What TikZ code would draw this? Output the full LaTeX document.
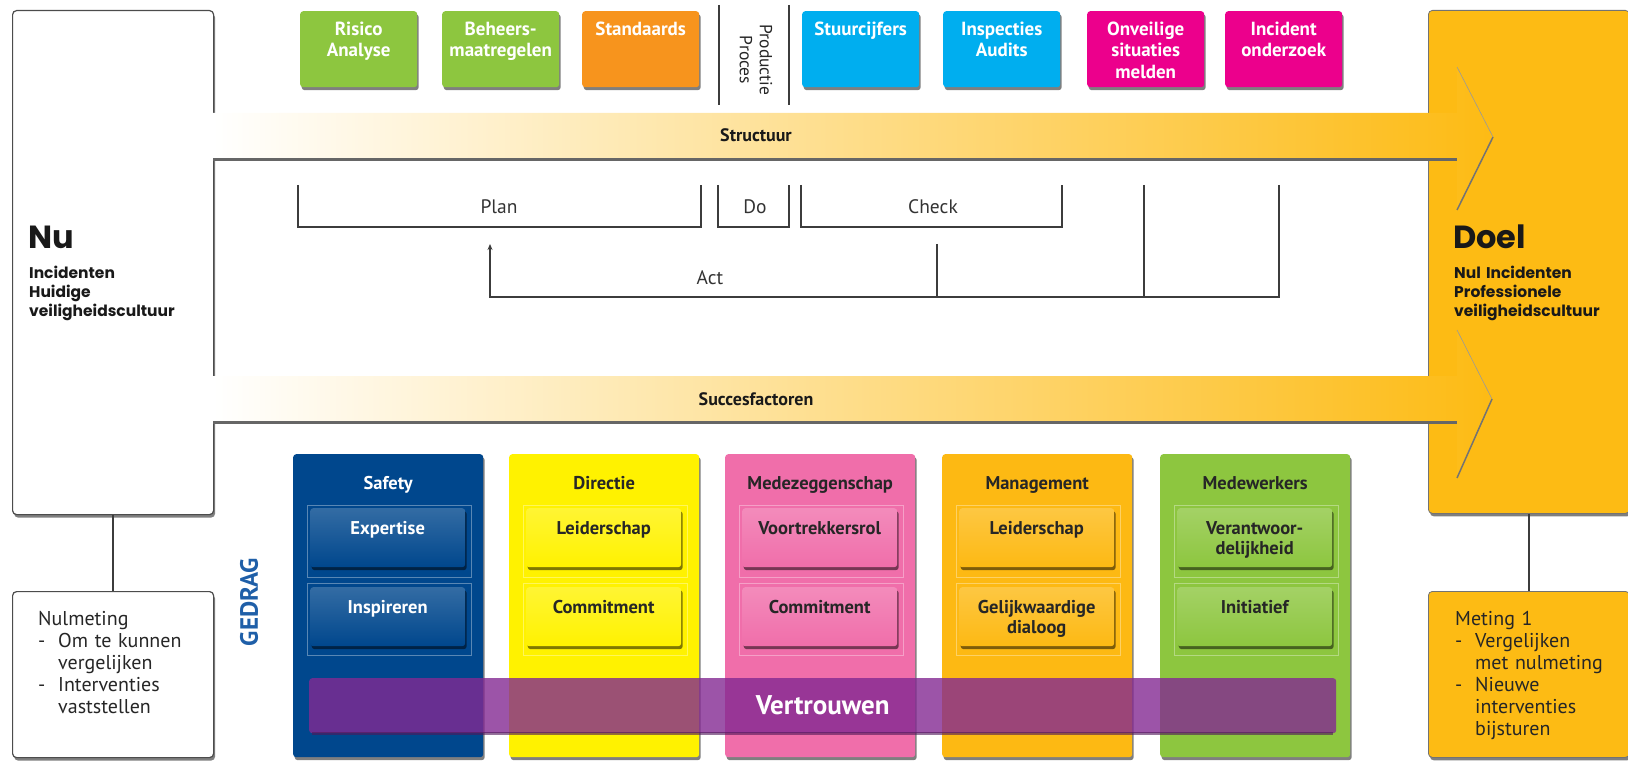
\documentclass[tikz,border=0pt]{standalone}
\usepackage{fontspec}
\setmainfont{PT Sans}
\newfontfamily\geofont{Poppins}
\usetikzlibrary{arrows.meta,shadows}

\definecolor{lichtgroen}{HTML}{8DC63F}
\definecolor{oranje}{HTML}{F7941D}
\definecolor{cyaan}{HTML}{00AEEF}
\definecolor{fuchsia}{HTML}{EC008C}
\definecolor{goud}{HTML}{FDBB14}
\definecolor{donkerblauw}{HTML}{00478D}
\definecolor{geel}{HTML}{FFF200}
\definecolor{roze}{HTML}{F06EAA}
\definecolor{oranjegeel}{HTML}{FDB913}
\definecolor{paars}{HTML}{832992}
\definecolor{lijnkleur}{HTML}{3C3C3C}
\definecolor{gedragblauw}{HTML}{1F5FA8}

\tikzset{
  schaduw/.style={drop shadow={shadow xshift=1.5pt, shadow yshift=-3pt, opacity=.5, fill=black}},
  topvak/.style={fill=#1, rounded corners=3pt, anchor=north west, text width=117pt, align=center,
    inner sep=0pt, text height=24pt, text depth=52pt, text=white,
    font=\bfseries\fontsize{19}{21.5}\selectfont, schaduw},
  grootvak/.style={draw=black!70, line width=1.2pt, rounded corners=4pt, anchor=north west,
    minimum width=201pt, minimum height=#1, inner sep=0pt, schaduw},
  kolom/.style={fill=#1, rounded corners=3pt, anchor=north west, text width=190pt, align=center,
    inner sep=0pt, text height=35pt, text depth=268pt, text=black!85,
    font=\bfseries\fontsize{18.5}{20}\selectfont, schaduw},
  blok/.style={top color=#1!80!white, bottom color=#1, rounded corners=3pt, anchor=north west,
    text width=155pt, align=center, inner sep=0pt, text height=26pt, text depth=33pt, text=black!85,
    font=\bfseries\fontsize{18.5}{20.5}\selectfont, schaduw},
  kader/.style={draw=white, opacity=.35, line width=.6pt},
  lijn/.style={draw=lijnkleur, line width=1.4pt},
  pdca/.style={font=\fontsize{19.5}{19.5}\selectfont, text=black!80},
  pijltekst/.style={font=\bfseries\fontsize{18}{18}\selectfont, text=black!90},
  kop/.style={anchor=base west, inner sep=0pt, font=\geofont\bfseries\fontsize{32}{32}\selectfont, text=black!90},
  subkop/.style={anchor=base west, inner sep=0pt, text width=190pt, align=left,
    font=\geofont\bfseries\fontsize{15.5}{19}\selectfont, text=black!90},
  meting/.style={anchor=base west, inner sep=0pt, text width=175pt, align=left,
    font=\fontsize{20}{22}\selectfont, text=black!85}
}

\begin{document}
\begin{tikzpicture}[x=1pt,y=-1pt]
  \useasboundingbox (0,0) rectangle (1628,762);

  % Nu en Doel
  \node (nu) [grootvak=504pt, fill=white] at (12,10) {};
  \node (doel) [grootvak=503pt, fill=goud, draw=black!55, line width=.8pt] at (1428,10) {};
  \node (nutitel) [kop] at (28,248) {Nu};
  \node (nutekst) [subkop] at (29,279) {Incidenten\\Huidige\\veiligheidscultuur};
  \node (doeltitel) [kop] at (1453,248) {Doel};
  \node (doeltekst) [subkop] at (1454,279) {Nul Incidenten\\Professionele\\veiligheidscultuur};

  % Metingen
  \node (nulmeting) [grootvak=166pt, fill=white] at (12,591) {};
  \node (meting) [grootvak=166pt, fill=goud, draw=black!55, line width=.8pt] at (1428,591) {};
  \draw[lijn] (nu.south) -- (nulmeting.north);
  \draw[lijn] (doel.south) -- (meting.north);
  \node (nultekst) [meting] at (38,625) {Nulmeting\\
    \makebox[20pt][l]{-}Om te kunnen\\ \hspace*{20pt}vergelijken\\
    \makebox[20pt][l]{-}Interventies\\ \hspace*{20pt}vaststellen};
  \node (metingtekst) [meting] at (1455,625) {Meting 1\\
    \makebox[20pt][l]{-}Vergelijken\\ \hspace*{20pt}met nulmeting\\
    \makebox[20pt][l]{-}Nieuwe\\ \hspace*{20pt}interventies\\ \hspace*{20pt}bijsturen};

  % Structuur
  \node (risico) [topvak=lichtgroen] at (300,11) {Risico\\Analyse};
  \node (beheers) [topvak=lichtgroen] at (442,11) {Beheers-\\maatregelen};
  \node (standaards) [topvak=oranje] at (582,11) {Standaards};
  \node (stuurcijfers) [topvak=cyaan] at (802,11) {Stuurcijfers};
  \node (inspecties) [topvak=cyaan] at (943,11) {Inspecties\\Audits};
  \node (onveilig) [topvak=fuchsia] at (1087,11) {Onveilige\\situaties\\melden};
  \node (incident) [topvak=fuchsia] at (1225,11) {Incident\\onderzoek};
  \draw[lijn] (719,5) -- (719,105);
  \draw[lijn] (789,5) -- (789,105);
  \node (productie) [rotate=-90, align=center, font=\fontsize{17.5}{20}\selectfont, text=black!85] at (756,60) {Productie\\Proces};

  % Pijlen
  \shade[left color=white, right color=goud] (213,113) -- (1457,113) -- (1457,67) -- (1493,137)
    -- (1457,210) -- (1457,160) -- (213,160) -- cycle;
  \draw[line width=3pt, black!60] (213,160) -- (1457,160);
  \draw[line width=1.5pt, black!55] (1457,210) -- (1493,137);
  \draw[line width=.6pt, black!40] (1457,67) -- (1493,137);
  \node (structuur) [pijltekst] at (756,135) {Structuur};

  \shade[left color=white, right color=goud] (213,376) -- (1457,376) -- (1457,330) -- (1492,399)
    -- (1457,478) -- (1457,422) -- (213,422) -- cycle;
  \draw[line width=3pt, black!60] (213,422) -- (1457,422);
  \draw[line width=1.5pt, black!55] (1457,478) -- (1492,399);
  \draw[line width=.6pt, black!40] (1457,330) -- (1492,399);
  \node (succes) [pijltekst] at (756,399) {Succesfactoren};

  % Plan Do Check Act
  \draw[lijn] (298,185) -- (298,227) -- (701,227) -- (701,185);
  \draw[lijn] (718,185) -- (718,227) -- (789,227) -- (789,185);
  \draw[lijn] (801,185) -- (801,227) -- (1062,227) -- (1062,185);
  \draw[lijn, -{Stealth[length=6pt,width=5pt]}] (1279,185) -- (1279,297) -- (490,297) -- (490,244);
  \draw[lijn] (1144,185) -- (1144,297);
  \draw[lijn] (937,244) -- (937,297);
  \node (plan) [pdca] at (499,207) {Plan};
  \node (do) [pdca] at (755,207) {Do};
  \node (check) [pdca] at (933,207) {Check};
  \node (act) [pdca] at (710,278) {Act};

  % Gedrag
  \node (gedrag) [rotate=90, font=\bfseries\fontsize{25}{25}\selectfont, text=gedragblauw] at (249,602) {GEDRAG};

  \node (safety) [kolom=donkerblauw, text=white] at (293,454) {Safety};
  \node (directie) [kolom=geel] at (509,454) {Directie};
  \node (mz) [kolom=roze] at (725,454) {Medezeggenschap};
  \node (management) [kolom=oranjegeel] at (942,454) {Management};
  \node (medewerkers) [kolom=lichtgroen] at (1160,454) {Medewerkers};

  \draw[kader] (307,505) rectangle (471,577) (307,583) rectangle (471,655);
  \draw[kader] (523,505) rectangle (687,577) (523,583) rectangle (687,655);
  \draw[kader] (739,505) rectangle (903,577) (739,583) rectangle (903,655);
  \draw[kader] (956,505) rectangle (1120,577) (956,583) rectangle (1120,655);
  \draw[kader] (1174,505) rectangle (1338,577) (1174,583) rectangle (1338,655);

  \node (expertise) [blok=donkerblauw, text=white] at (310,508) {Expertise};
  \node (inspireren) [blok=donkerblauw, text=white] at (310,587) {Inspireren};
  \node (leiderschap1) [blok=geel] at (526,508) {Leiderschap};
  \node (commitment1) [blok=geel] at (526,587) {Commitment};
  \node (voortrekker) [blok=roze] at (742,508) {Voortrekkersrol};
  \node (commitment2) [blok=roze] at (742,587) {Commitment};
  \node (leiderschap2) [blok=oranjegeel] at (959,508) {Leiderschap};
  \node (dialoog) [blok=oranjegeel] at (959,587) {Gelijkwaardige\\dialoog};
  \node (verantwoord) [blok=lichtgroen] at (1177,508) {Verantwoor-\\delijkheid};
  \node (initiatief) [blok=lichtgroen] at (1177,587) {Initiatief};

  % Vertrouwen
  \node (vertrouwen) [fill=paars, fill opacity=.8, text opacity=1, rounded corners=3pt, anchor=north west,
    minimum width=1027pt, minimum height=55pt, inner sep=0pt, text=white,
    font=\bfseries\fontsize{27}{27}\selectfont] at (309,678) {Vertrouwen};
  \draw[line width=2.5pt, paars!60!black, opacity=.6] ([xshift=3pt]vertrouwen.south west) -- ([xshift=-3pt]vertrouwen.south east);
\end{tikzpicture}
\end{document}
